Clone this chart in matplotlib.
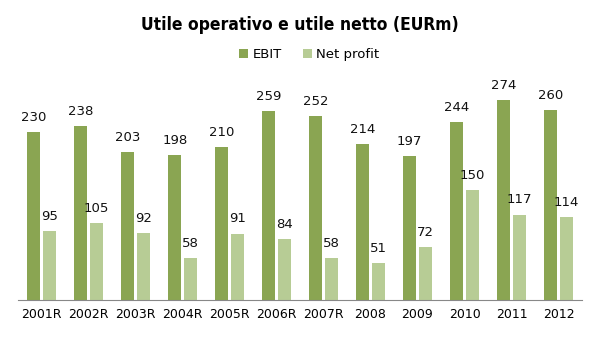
import numpy as np
import matplotlib.pyplot as plt

years = ["2001R", "2002R", "2003R", "2004R", "2005R", "2006R", "2007R",
         "2008", "2009", "2010", "2011", "2012"]
ebit = [230, 238, 203, 198, 210, 259, 252, 214, 197, 244, 274, 260]
net_profit = [95, 105, 92, 58, 91, 84, 58, 51, 72, 150, 117, 114]

c_ebit = "#8aa552"
c_np = "#b7cc95"

fig = plt.figure(figsize=(6, 3.46), dpi=100)
ax = fig.add_axes([0.03, 0.133, 0.94, 0.633])

x = np.arange(len(years))
w = 0.27
b1 = ax.bar(x - 0.165, ebit, w, color=c_ebit, label="EBIT")
b2 = ax.bar(x + 0.165, net_profit, w, color=c_np, label="Net profit")

# value labels above each bar
for bars, vals in [(b1, ebit), (b2, net_profit)]:
    for r, v in zip(bars, vals):
        ax.annotate(str(v), (r.get_x() + r.get_width() / 2, v),
                    xytext=(0, 10.5), textcoords="offset points",
                    ha="center", va="center", fontsize=9.5, color="#111111")

ax.set_xlim(-0.5, len(years) - 0.5)
ax.set_ylim(0, 300)
ax.set_xticks(x)
ax.set_xticklabels(years, fontsize=9)
ax.tick_params(axis="x", length=0, pad=6)
ax.set_yticks([])
for s in ["top", "right", "left"]:
    ax.spines[s].set_visible(False)
ax.spines["bottom"].set_color("#888888")

fig.text(0.5, 0.928, "Utile operativo e utile netto (EURm)", ha="center",
         va="center", fontsize=12.5, fontweight="bold", fontstretch="condensed")
fig.legend(handles=[b1, b2], loc="center", bbox_to_anchor=(0.515, 0.842),
           ncol=2, frameon=False, fontsize=9.5, handlelength=0.7,
           handleheight=0.7, handletextpad=0.3, columnspacing=1.6)

fig.savefig("out.png", dpi=100)
